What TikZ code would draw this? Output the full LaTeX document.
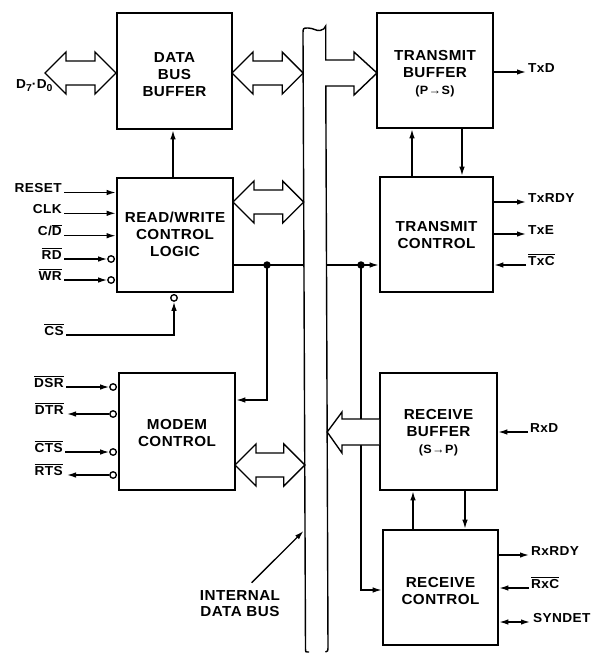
\documentclass[tikz,border=0pt]{standalone}
\usepackage{fontspec}
\setmainfont{Liberation Sans}[FakeStretch=1.05,LetterSpace=3]
\usetikzlibrary{arrows.meta,calc}
\newcommand\ob[1]{$\overline{\mbox{#1}}$}
\newcommand\dbl[3]{\draw[thinln,fill=white] (#1,#3) -- (#1+21,#3-21) -- (#1+21,#3-12) -- (#2-21,#3-12) -- (#2-21,#3-21) -- (#2,#3) -- (#2-21,#3+21) -- (#2-21,#3+12) -- (#1+21,#3+12) -- (#1+21,#3+21) -- cycle;}
\begin{document}
\begin{tikzpicture}[x=1pt,y=-1pt,
  thinln/.style={line width=1.35pt},
  busln/.style={line width=1.4pt,fill=white,line join=miter},
  blk/.style={draw,line width=2.6pt,inner sep=0pt},
  btxt/.style={inner sep=0pt,align=center,font=\bfseries\fontsize{14.5}{17}\selectfont},
  sig/.style={font=\bfseries\fontsize{13}{14}\selectfont,inner sep=0pt},
  arr/.style={thinln,-{Latex[length=9pt,width=5.5pt]}},
  bi/.style={thinln,{Latex[length=9pt,width=5.5pt]}-{Latex[length=9pt,width=5.5pt]}},
  inv/.style={circle,draw,thinln,fill=white,inner sep=0pt,minimum size=6.5pt},
  jdot/.style={circle,fill=black,inner sep=0pt,minimum size=7.5pt}
]
\useasboundingbox (0,0) rectangle (604,654);

% bus with transmit-buffer arrow
\draw[busln] (309,652) -- (307.5,652) .. controls (305.5,652) .. (305.5,649) -- (303,34)
  .. controls (303,28) .. (308,28) .. controls (313,28) and (316,31) .. (320,30.5)
  .. controls (323,30) and (325,28.5) .. (325.7,26) -- (325.7,60) -- (354,60) -- (354,52)
  -- (377,73) -- (354,95) -- (354,86) -- (325.8,86) -- (328,648) .. controls (328,651) .. (325.5,652);

% blocks
\node[blk,minimum width=115pt,minimum height=116pt] (dbb) at (174.5,71) {};
\node[blk,minimum width=116pt,minimum height=114pt] (rw) at (175,235) {};
\node[blk,minimum width=116pt,minimum height=115pt] (txb) at (435,70.5) {};
\node[blk,minimum width=113pt,minimum height=115pt] (txc) at (436.5,234.5) {};
\node[blk,minimum width=116pt,minimum height=117pt] (mdm) at (177,431.5) {};
\node[blk,minimum width=117pt,minimum height=117pt] (rxb) at (438.5,431.5) {};
\node[blk,minimum width=115pt,minimum height=115pt] (rxc) at (440.5,587.5) {};
\node[btxt] (dbbt) at (174.5,75) {DATA\\BUS\\BUFFER};
\node[btxt] (rwt) at (175,234) {READ/WRITE\\CONTROL\\LOGIC};
\node[btxt] (txbt) at (435,74) {TRANSMIT\\BUFFER\\{\fontsize{12}{13}\selectfont (P→S)}};
\node[btxt] (txct) at (436.5,235) {TRANSMIT\\CONTROL};
\node[btxt] (mdmt) at (177,433) {MODEM\\CONTROL};
\node[btxt] (rxbt) at (438.5,433) {RECEIVE\\BUFFER\\{\fontsize{12}{13}\selectfont (S→P)}};
\node[btxt] (rxct) at (440.5,591.5) {RECEIVE\\CONTROL};

% double arrows
\dbl{45}{116}{73}
\dbl{232}{303.2}{73}
\dbl{233}{303.7}{202}
\dbl{235}{304.8}{465}

% D7-D0 label
\node[sig,anchor=base west] (dd) at (16,88) {D\raisebox{-3pt}{\fontsize{10}{10}\selectfont 7}·D\raisebox{-3pt}{\fontsize{10}{10}\selectfont 0}};

% internal control line
\coordinate (j1) at (267,265);
\coordinate (j2) at (361,265);
\coordinate (m1) at (267,400);
\coordinate (r1) at (361,590);
\draw[thinln] (rw.east |- j1) -- (304,265);
\draw[arr] (326.5,265) -- (txc.west |- j2);
\draw[arr] (j1) -- (m1) -- (m1 -| mdm.east);
\draw[arr] (j2) -- (r1) -- (r1 -| rxc.west);
\node[jdot] (d1) at (j1) {};
\node[jdot] (d2) at (j2) {};

% receive buffer arrow to bus
\draw[thinln,fill=white] (379,419) -- (342,419) -- (342,412) -- (327.2,432) -- (342,453) -- (342,445) -- (379,445);

% vertical arrows between blocks
\coordinate (u0) at (173,0);
\coordinate (u1) at (412,0);
\coordinate (u2) at (462,0);
\coordinate (u3) at (413,0);
\coordinate (u4) at (465,0);
\draw[arr] (rw.north -| u0) -- (dbb.south -| u0);
\draw[arr] (txc.north -| u1) -- (txb.south -| u1);
\draw[arr] (txb.south -| u2) -- (txc.north -| u2);
\draw[arr] (rxc.north -| u3) -- (rxb.south -| u3);
\draw[arr] (rxb.south -| u4) -- (rxc.north -| u4);

% left signals of read/write logic
\node[sig,anchor=base east] (reset) at (62,192.5) {RESET};
\node[sig,anchor=base east] (clk) at (62,213.3) {CLK};
\node[sig,anchor=base east] (cd) at (62,235.7) {C/\ob{D}};
\node[sig,anchor=base east] (rd) at (62,259) {\ob{RD}};
\node[sig,anchor=base east] (wr) at (62,280) {\ob{WR}};
\draw[arr] ([xshift=2pt]reset.base east) -- (reset.base east -| rw.west);
\draw[arr] ([xshift=2pt]clk.base east) -- (clk.base east -| rw.west);
\draw[arr] ([xshift=2pt]cd.base east) -- (cd.base east -| rw.west);
\node[inv] (crd) at ($(rw.west |- rd.base)+(-4.6,0)$) {};
\node[inv] (cwr) at ($(rw.west |- wr.base)+(-4.6,0)$) {};
\draw[arr] ([xshift=2pt]rd.base east) -- (crd.west);
\draw[arr] ([xshift=2pt]wr.base east) -- (cwr.west);

% chip select
\node[sig,anchor=base east] (cs) at (64,335) {\ob{CS}};
\coordinate (csx) at (174,0);
\node[inv] (ccs) at ($(csx |- rw.south)+(0,4.6)$) {};
\draw[arr] ([xshift=2pt]cs.base east) -| (ccs.south);

% modem signals
\node[sig,anchor=base east] (dsr) at (64,387) {\ob{DSR}};
\node[sig,anchor=base east] (dtr) at (64,414) {\ob{DTR}};
\node[sig,anchor=base east] (cts) at (63,452) {\ob{CTS}};
\node[sig,anchor=base east] (rts) at (63,475) {\ob{RTS}};
\node[inv] (cdsr) at ($(mdm.west |- dsr.base)+(-4.6,0)$) {};
\node[inv] (cdtr) at ($(mdm.west |- dtr.base)+(-4.6,0)$) {};
\node[inv] (ccts) at ($(mdm.west |- cts.base)+(-4.6,0)$) {};
\node[inv] (crts) at ($(mdm.west |- rts.base)+(-4.6,0)$) {};
\draw[arr] ([xshift=2pt]dsr.base east) -- (cdsr.west);
\draw[arr] (cdtr.west) -- ([xshift=3pt]dtr.base east);
\draw[arr] ([xshift=2pt]cts.base east) -- (ccts.west);
\draw[arr] (crts.west) -- ([xshift=4pt]rts.base east);

% transmit side signals
\node[sig,anchor=base west] (txd) at (528,72) {TxD};
\node[sig,anchor=base west] (txrdy) at (528,202) {TxRDY};
\node[sig,anchor=base west] (txe) at (528,234) {TxE};
\node[sig,anchor=base west] (txcl) at (528,265) {\ob{TxC}};
\draw[arr] (txb.east |- txd.base) -- ([xshift=-2pt]txd.base west);
\draw[arr] (txc.east |- txrdy.base) -- ([xshift=-2pt]txrdy.base west);
\draw[arr] (txc.east |- txe.base) -- ([xshift=-2pt]txe.base west);
\draw[arr] ([xshift=-2pt]txcl.base west) -- (txc.east |- txcl.base);

% receive side signals
\node[sig,anchor=base west] (rxd) at (530,432) {RxD};
\node[sig,anchor=base west] (rxrdy) at (531,555) {RxRDY};
\node[sig,anchor=base west] (rxcl) at (531,588) {\ob{RxC}};
\node[sig,anchor=base west] (syn) at (533,622) {SYNDET};
\draw[arr] ([xshift=-2pt]rxd.base west) -- (rxb.east |- rxd.base);
\draw[arr] (rxc.east |- rxrdy.base) -- ([xshift=-2pt]rxrdy.base west);
\draw[arr] ([xshift=-2pt]rxcl.base west) -- (rxc.east |- rxcl.base);
\draw[bi] (rxc.east |- syn.base) -- ([xshift=-3pt]syn.base west);

% internal data bus label
\node[font=\bfseries\fontsize{14.5}{16}\selectfont,align=center,inner sep=0pt] (idb) at (240,604) {INTERNAL\\DATA BUS};
\coordinate (idbs) at (251.7,582.7);
\coordinate (idbt) at (303.5,531);
\draw[arr] (idbs) -- (idbt);
\end{tikzpicture}
\end{document}
